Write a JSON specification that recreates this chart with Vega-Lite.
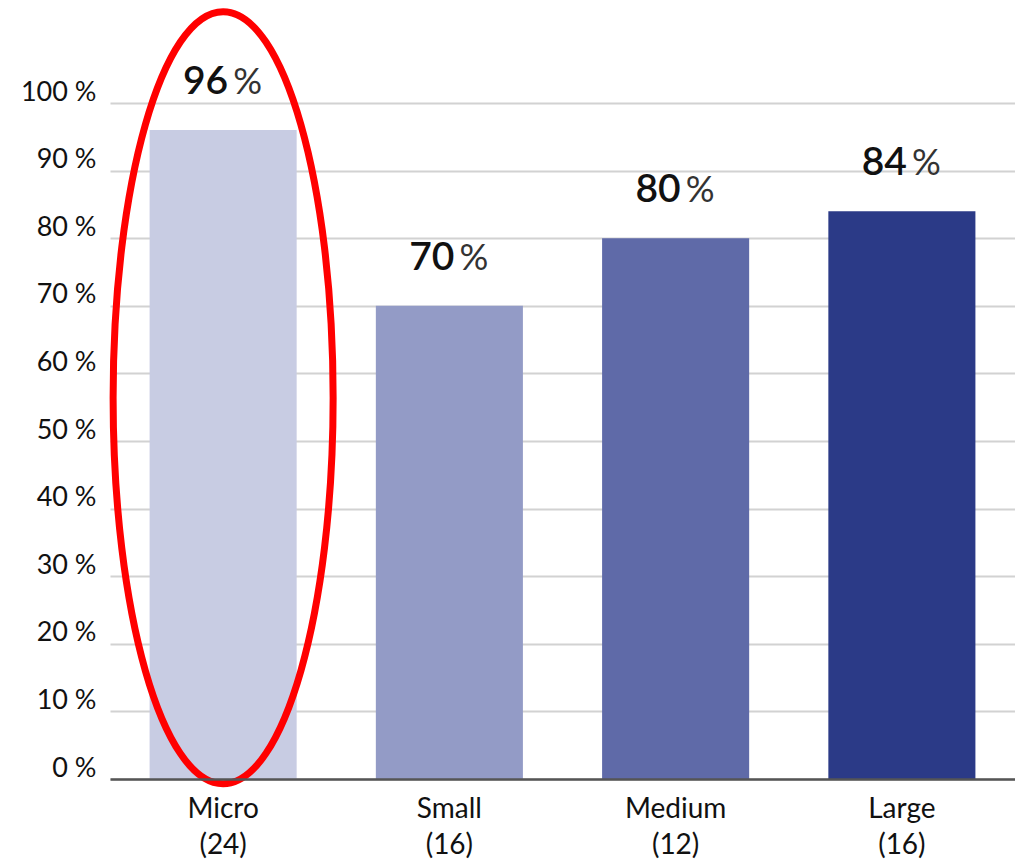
{
  "$schema": "https://vega.github.io/schema/vega-lite/v6.json",
  "width": 905,
  "height": 676,
  "autosize": {"type": "none"},
  "padding": {"left": 110, "top": 103, "right": 0, "bottom": 86},
  "background": "white",
  "config": {
    "view": {"stroke": null},
    "font": "Lato",
    "axis": {"labelFont": "Lato", "labelColor": "#111", "titleFont": "Lato"}
  },
  "data": {
    "values": [
      {"group": "Micro (24)", "pct": 96},
      {"group": "Small (16)", "pct": 70},
      {"group": "Medium (12)", "pct": 80},
      {"group": "Large (16)", "pct": 84}
    ]
  },
  "encoding": {
    "x": {
      "field": "group",
      "type": "nominal",
      "sort": null,
      "scale": {"paddingInner": 0.35, "paddingOuter": 0.175},
      "axis": {
        "title": null,
        "labelAngle": 0,
        "labelExpr": "split(datum.label, ' ')",
        "labelFontSize": 28,
        "labelLineHeight": 36,
        "labelPadding": 16,
        "labelBaseline": "top",
        "ticks": false,
        "domainColor": "#555",
        "domainWidth": 2.5,
        "zindex": 2
      }
    }
  },
  "layer": [
    {
      "mark": {"type": "bar"},
      "encoding": {
        "y": {
          "field": "pct",
          "type": "quantitative",
          "scale": {"domain": [0, 100]},
          "axis": {
            "title": null,
            "values": [0, 10, 20, 30, 40, 50, 60, 70, 80, 90, 100],
            "labelExpr": "datum.value + ' %'",
            "labelFontSize": 27,
            "labelPadding": 14,
            "labelBaseline": "alphabetic",
            "labelOffset": -3,
            "ticks": false,
            "domain": false,
            "gridColor": "#d2d2d2",
            "gridWidth": 2
          }
        },
        "color": {
          "field": "group",
          "type": "nominal",
          "legend": null,
          "scale": {
            "domain": ["Micro (24)", "Small (16)", "Medium (12)", "Large (16)"],
            "range": ["#c8cce3", "#939bc6", "#5f6aa8", "#2b3a87"]
          }
        }
      }
    },
    {
      "mark": {"type": "text", "align": "right", "baseline": "alphabetic", "dx": 5, "dy": -36, "fontSize": 39, "fontWeight": 600, "color": "#111"},
      "encoding": {
        "y": {"field": "pct", "type": "quantitative"},
        "text": {"field": "pct", "type": "quantitative"}
      }
    },
    {
      "mark": {"type": "text", "align": "left", "baseline": "alphabetic", "dx": 10, "dy": -36, "fontSize": 36, "fontWeight": 400, "color": "#333", "text": "%"},
      "encoding": {
        "y": {"field": "pct", "type": "quantitative"}
      }
    },
    {
      "data": {"values": [{"group": "Micro (24)", "center": 56.4}]},
      "mark": {
        "type": "point",
        "shape": "M -0.285 0 A 0.285 1 0 1 0 0.285 0 A 0.285 1 0 1 0 -0.285 0 Z",
        "size": 595984,
        "filled": false,
        "stroke": "#ff0000",
        "strokeWidth": 7,
        "opacity": 1
      },
      "encoding": {
        "y": {"field": "center", "type": "quantitative"}
      }
    }
  ]
}
